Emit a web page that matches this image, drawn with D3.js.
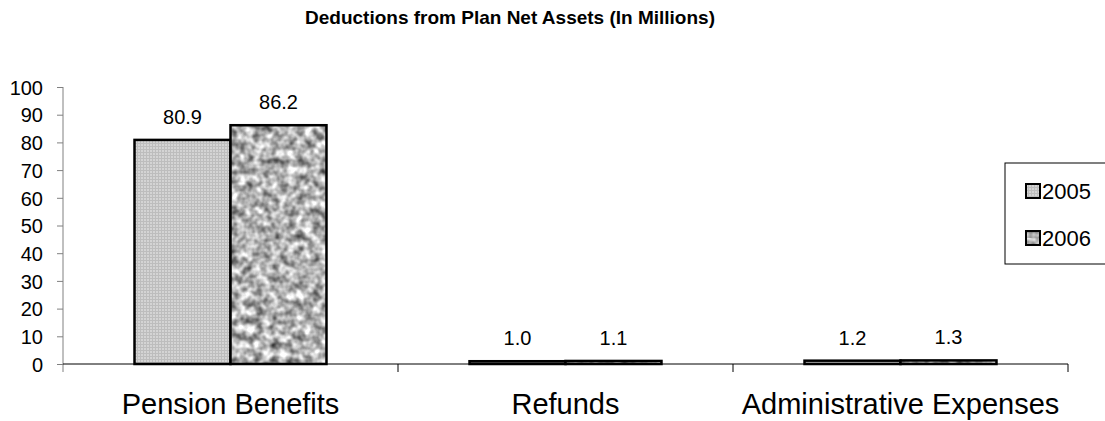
<!DOCTYPE html>
<html>
<head>
<meta charset="utf-8">
<script src="https://cdn.jsdelivr.net/npm/d3@7"></script>
<style>
  body { margin: 0; background: #fff; }
  svg { display: block; font-family: "Liberation Sans", Arial, sans-serif; }
</style>
</head>
<body>
<div id="chart"></div>
<script>
const categories = ["Pension Benefits", "Refunds", "Administrative Expenses"];
const years = ["2005", "2006"];
const values2005 = [80.9, 1.0, 1.2];
const values2006 = [86.2, 1.1, 1.3];
const yTickValues = [0, 10, 20, 30, 40, 50, 60, 70, 80, 90, 100];

const width = 1105, height = 421;
const plot = {left: 63, right: 1068, top: 87, bottom: 364};

const svg = d3.select("#chart").append("svg")
  .attr("width", width)
  .attr("height", height);

const defs = svg.append("defs");

// fine dotted fill for 2005
const dots = defs.append("pattern")
  .attr("id", "pat2005")
  .attr("patternUnits", "userSpaceOnUse")
  .attr("width", 3).attr("height", 3);
dots.append("rect").attr("width", 3).attr("height", 3).attr("fill", "#bdbdbd");
dots.append("rect").attr("width", 2).attr("height", 2).attr("fill", "#d4d4d4");

// granite-like fill for 2006 (one tile covering the whole chart, so no seams)
const granite = defs.append("filter")
  .attr("id", "graniteFilter")
  .attr("color-interpolation-filters", "sRGB")
  .attr("filterUnits", "userSpaceOnUse")
  .attr("x", 0).attr("y", 0).attr("width", width).attr("height", height);
granite.append("feTurbulence")
  .attr("type", "fractalNoise")
  .attr("baseFrequency", 0.12)
  .attr("numOctaves", 2)
  .attr("seed", 7);
granite.append("feColorMatrix")
  .attr("type", "matrix")
  .attr("values", "1 0 0 0 0  1 0 0 0 0  1 0 0 0 0  0 0 0 0 1");
const ct = granite.append("feComponentTransfer");
["feFuncR", "feFuncG", "feFuncB"].forEach(f => {
  ct.append(f).attr("type", "linear").attr("slope", 1.2).attr("intercept", 0.1);
});
const pat06 = defs.append("pattern")
  .attr("id", "pat2006")
  .attr("patternUnits", "userSpaceOnUse")
  .attr("width", width).attr("height", height);
pat06.append("rect")
  .attr("width", width).attr("height", height)
  .attr("fill", "#fff")
  .attr("filter", "url(#graniteFilter)");

const fills = {"2005": "url(#pat2005)", "2006": "url(#pat2006)"};

// title
svg.append("text")
  .attr("x", 510)
  .attr("y", 24)
  .attr("text-anchor", "middle")
  .style("font-weight", "bold")
  .style("font-size", "19px")
  .text("Deductions from Plan Net Assets (In Millions)");

const x = d3.scaleBand()
  .domain(categories)
  .range([plot.left, plot.right]);

const xSub = d3.scaleBand()
  .domain(years)
  .range([0, x.bandwidth()])
  .paddingOuter(0.745);

const y = d3.scaleLinear()
  .domain([0, 100])
  .range([plot.bottom, plot.top]);

// y axis
const yAxis = svg.append("g")
  .attr("transform", `translate(${plot.left},0)`)
  .call(d3.axisLeft(y).tickValues(yTickValues).tickSize(6).tickPadding(14));
yAxis.select(".domain").attr("stroke", "#808080").attr("d", `M0,${plot.top}V${plot.bottom + 8}`);
yAxis.selectAll(".tick line").attr("stroke", "#808080");
yAxis.selectAll(".tick text").style("font-size", "20px").attr("fill", "#000").attr("dy", "0.36em");

// bars
const rows = categories.map((c, i) => ({category: c, values: [values2005[i], values2006[i]]}));

const groups = svg.append("g").selectAll("g")
  .data(rows)
  .join("g")
  .attr("transform", d => `translate(${x(d.category)},0)`);

groups.selectAll("rect")
  .data(d => years.map((yr, j) => ({year: yr, value: d.values[j]})))
  .join("rect")
  .attr("x", d => xSub(d.year))
  .attr("y", d => y(d.value))
  .attr("width", xSub.bandwidth())
  .attr("height", d => y(0) - y(d.value))
  .attr("fill", d => fills[d.year])
  .attr("stroke", "#000")
  .attr("stroke-width", 2.5);

groups.selectAll("text")
  .data(d => years.map((yr, j) => ({year: yr, value: d.values[j]})))
  .join("text")
  .attr("x", d => xSub(d.year) + xSub.bandwidth() / 2)
  .attr("y", d => y(d.value) - 16)
  .attr("text-anchor", "middle")
  .style("font-size", "20px")
  .text(d => d3.format(".1f")(d.value));

// x axis
const xAxis = svg.append("g")
  .attr("transform", `translate(0,${plot.bottom})`);
xAxis.append("line")
  .attr("x1", plot.left).attr("x2", plot.right)
  .attr("stroke", "#000").attr("stroke-width", 1);
xAxis.selectAll(".cat-tick")
  .data(categories)
  .join("line")
  .attr("class", "cat-tick")
  .attr("x1", d => x(d) + x.bandwidth()).attr("x2", d => x(d) + x.bandwidth())
  .attr("y1", 0).attr("y2", 8)
  .attr("stroke", "#000");
xAxis.selectAll(".cat-label")
  .data(categories)
  .join("text")
  .attr("class", "cat-label")
  .attr("x", d => x(d) + x.bandwidth() / 2)
  .attr("y", 50)
  .attr("text-anchor", "middle")
  .style("font-size", "29px")
  .text(d => d);

// legend
const legend = svg.append("g").attr("transform", "translate(1005,163)");
legend.append("rect")
  .attr("width", 110).attr("height", 101)
  .attr("fill", "#fff")
  .attr("stroke", "#000").attr("stroke-width", 1);
const items = legend.selectAll(".item")
  .data(years)
  .join("g")
  .attr("class", "item")
  .attr("transform", (d, i) => `translate(21,${28 + i * 47})`);
items.append("rect")
  .attr("x", 0).attr("y", -7)
  .attr("width", 14).attr("height", 14)
  .attr("fill", d => fills[d])
  .attr("stroke", "#000").attr("stroke-width", 2);
items.append("text")
  .attr("x", 16)
  .attr("dy", "0.36em")
  .style("font-size", "22px")
  .text(d => d);
</script>
</body>
</html>
